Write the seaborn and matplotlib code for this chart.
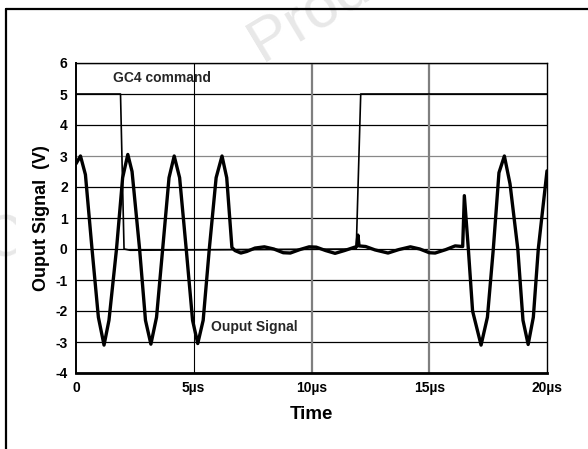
import matplotlib
matplotlib.use("Agg")
import matplotlib.pyplot as plt
import seaborn as sns
import pandas as pd
from matplotlib.lines import Line2D
from matplotlib.transforms import Bbox

sns.set_theme(style="white")
plt.rcParams['font.family'] = ['Liberation Sans', 'DejaVu Sans']
plt.rcParams['axes.unicode_minus'] = False

# ---- data ----
out_t = [0.00, 0.19, 0.40, 0.68, 0.95, 1.19, 1.40, 1.72, 1.98, 2.20, 2.38, 2.70, 2.95, 3.18,
         3.42, 3.68, 3.95, 4.17, 4.40, 4.68, 4.95, 5.17, 5.40, 5.66, 5.95, 6.20, 6.40, 6.62,
         6.75, 7.00, 7.25, 7.60, 8.00, 8.40, 8.80, 9.10, 9.50, 9.90, 10.20, 10.60, 11.00,
         11.40, 11.80, 11.92, 11.97, 12.02, 12.30, 12.70, 13.25, 13.70, 14.20, 14.60, 15.00,
         15.25, 15.70, 16.10, 16.42, 16.49, 16.66, 16.84, 17.20, 17.47, 17.72, 17.96, 18.19,
         18.43, 18.76, 18.98, 19.20, 19.42, 19.63, 20.00]
out_v = [2.75, 3.00, 2.40, 0.00, -2.20, -3.10, -2.30, 0.00, 2.30, 3.05, 2.50, 0.00, -2.30, -3.07,
         -2.20, 0.00, 2.30, 3.00, 2.30, 0.00, -2.30, -3.05, -2.30, 0.00, 2.30, 3.00, 2.30, 0.05,
         -0.05, -0.13, -0.08, 0.03, 0.07, 0.00, -0.12, -0.13, -0.02, 0.07, 0.06, -0.05, -0.14,
         -0.05, 0.05, 0.08, 0.45, 0.10, 0.08, -0.03, -0.13, -0.02, 0.07, 0.00, -0.12,
         -0.13, -0.02, 0.10, 0.08, 1.72, 0.00, -2.00, -3.10, -2.20, 0.00, 2.46, 3.00,
         2.10, 0.00, -2.30, -3.08, -2.20, 0.00, 2.52]

gc4_t = [0.00, 1.89, 2.04, 2.30, 11.90, 12.09, 20.00]
gc4_v = [5.00, 5.00, 0.00, -0.04, 0.00, 5.00, 5.00]

x_ticks = [0, 5, 10, 15, 20]
x_labels = ["0", "5µs", "10µs", "15µs", "20µs"]
y_ticks = [-4, -3, -2, -1, 0, 1, 2, 3, 4, 5, 6]

df_out = pd.DataFrame({"t": out_t, "v": out_v})
df_gc4 = pd.DataFrame({"t": gc4_t, "v": gc4_v})

W, H = 588, 449
fig = plt.figure(figsize=(W / 100, H / 100), dpi=100)
fig.patch.set_facecolor("white")

# faint watermark fragments
wm = fig.text(262 / W, 1 - 62 / H, "Product", fontsize=44, color="#e8e8e8",
              rotation=31, rotation_mode="anchor", ha="left", va="baseline",
              fontweight="normal", zorder=-5)
wm2 = fig.text(-4 / W, 1 - 264 / H, "O", fontsize=42, color="#e8e8e8",
               rotation=31, rotation_mode="anchor", ha="left", va="baseline", zorder=-5)
wm2.set_clip_box(Bbox([[0, 0], [16, H]]))

ax = fig.add_axes([76 / W, 1 - 373 / H, 471 / W, 310 / H])
ax.set_facecolor("white")

# grid lines
for yv in y_ticks:
    col = "#888888" if yv == 3 else "black"
    ax.axhline(yv, color=col, lw=0.9, zorder=1)
ax.axvline(5, color="black", lw=0.8, zorder=1)
ax.axvline(10, color="#7f7f7f", lw=1.6, zorder=1)
ax.axvline(15, color="#7f7f7f", lw=1.6, zorder=1)

sns.lineplot(data=df_gc4, x="t", y="v", ax=ax, color="black", lw=1.2,
             estimator=None, sort=False, zorder=3)
sns.lineplot(data=df_out, x="t", y="v", ax=ax, color="black", lw=2.4,
             estimator=None, sort=False, zorder=4)

ax.set_xlim(0, 20)
ax.set_ylim(-4, 6)
ax.set_xticks(x_ticks)
ax.set_xticklabels(x_labels)
ax.set_yticks(y_ticks)
ax.tick_params(axis="both", length=0, labelsize=10, colors="black")
ax.tick_params(axis="x", pad=6)
ax.tick_params(axis="y", pad=6)
for lab in ax.get_xticklabels() + ax.get_yticklabels():
    lab.set_fontweight("bold")

for side in ["top", "right"]:
    ax.spines[side].set_color("black")
    ax.spines[side].set_linewidth(1.0)
ax.spines["left"].set_color("black")
ax.spines["left"].set_linewidth(1.4)
ax.spines["bottom"].set_color("black")
ax.spines["bottom"].set_linewidth(2.0)
for s in ax.spines.values():
    s.set_zorder(6)

ax.set_xlabel("Time", fontsize=13.5, fontweight="bold", labelpad=8, color="black")
ax.set_ylabel("Ouput Signal  (V)", fontsize=13, fontweight="bold", labelpad=4, color="black")

ax.text(1.56, 5.5, "GC4 command", fontsize=10, fontweight="bold", ha="left", va="center",
        zorder=7)
ax.text(5.74, -2.5, "Ouput Signal", fontsize=10, fontweight="bold", ha="left", va="center",
        zorder=7)

# outer frame (left and top edges)
fig.add_artist(Line2D([6 / W, 6 / W], [0, 1 - 9 / H], transform=fig.transFigure,
                      color="black", lw=1.6))
fig.add_artist(Line2D([6 / W, 1], [1 - 9 / H, 1 - 9 / H], transform=fig.transFigure,
                      color="black", lw=1.6))

fig.savefig("out.png", dpi=100, facecolor="white")
